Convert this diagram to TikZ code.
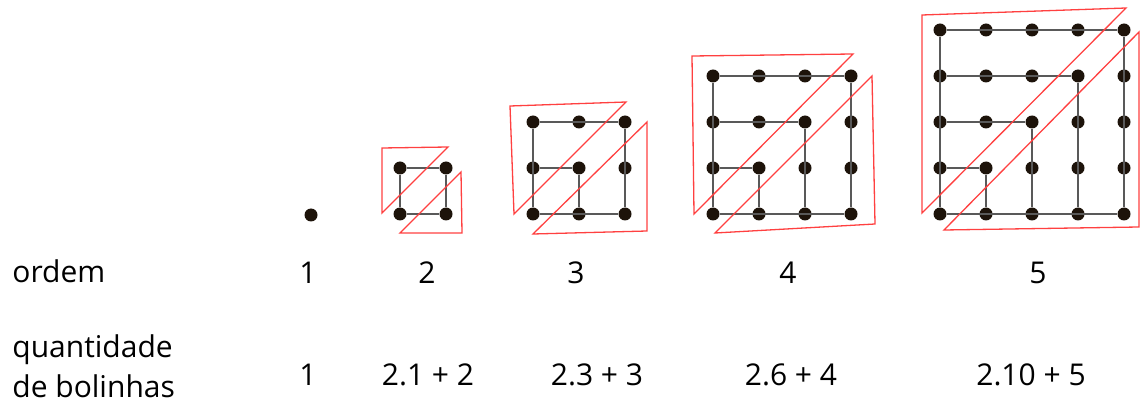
\documentclass[tikz,border=0pt]{standalone}
\usepackage{fontspec}
\setmainfont{Open Sans}
\usepackage{tikz}
\usetikzlibrary{positioning}

\tikzset{
  bola/.style={circle, fill=black!85!brown, inner sep=0pt, minimum size=6.5pt},
  traco/.style={draw=black!65, line width=0.7pt},
  triang/.style={draw=red!75, line width=0.65pt, line join=miter},
  rotulo/.style={font=\fontsize{15}{20}\selectfont, inner sep=0pt}
}

\begin{document}
\begin{tikzpicture}[x=0.5pt, y=-0.5pt]
				\useasboundingbox (0,0) rectangle (1140,406);
				
				% ordem 1
				\node[bola] (b1-0-0) at (311,215) {};
				
				% ordens 2 a 5: bolinhas (coluna x, linha y contada de baixo)
				\foreach \n/\xo in {2/400, 3/533, 4/713, 5/940}{
					\pgfmathtruncatemacro{\nm}{\n-1}
					\foreach \x in {0,...,\nm}
						\foreach \y in {0,...,\nm}
							\node[bola] (b\n-\x-\y) at ({\xo+46*\x}, {214-46*\y}) {};
					% coluna da esquerda e linha de baixo
					\draw[traco] (b\n-0-0) -- (b\n-0-\nm);
					\draw[traco] (b\n-0-0) -- (b\n-\nm-0);
					% ganchos em L
					\foreach \y in {1,...,\nm}
						\draw[traco] (b\n-0-\y) -- (b\n-\y-\y) -- (b\n-\y-0);
				}
				
				% triangulos vermelhos
				\draw[triang] (382,148) -- (448,147) -- (382,213) -- cycle;
				\draw[triang] (461,172) -- (462,233) -- (400,233) -- cycle;
				
				\draw[triang] (510,106) -- (626,102) -- (514,214) -- cycle;
				\draw[triang] (647,122) -- (647,231) -- (533,234) -- cycle;
				
				\draw[triang] (692,56) -- (853,54) -- (694,214) -- cycle;
				\draw[triang] (872,76) -- (875,224) -- (715,233) -- cycle;
				
				\draw[triang] (922,15) -- (1126,8) -- (922,213) -- cycle;
				\draw[triang] (1139,32) -- (1139,227) -- (944,230) -- cycle;
				
				% textos
				\node[rotulo, anchor=base west] (ordem) at (12,283) {ordem};
				\node[rotulo, anchor=base west] (qtd) at (12,357) {quantidade};
				\node[rotulo, anchor=base west] (bol) at (12,397) {de bolinhas};
				
				\foreach \i/\xc/\txt in {1/308/1, 2/427/2, 3/576/3, 4/788/4, 5/1038/5}
					\node[rotulo, anchor=base] (ord\i) at (\xc,284) {\txt};
				
				\foreach \i/\xc/\txt in {1/308/1, 2/428/2.1 + 2, 3/597/2.3 + 3, 4/791/2.6 + 4, 5/1031/2.10 + 5}
					\node[rotulo, anchor=base] (qtd\i) at (\xc,385) {\txt};
			\end{tikzpicture}
\end{document}
